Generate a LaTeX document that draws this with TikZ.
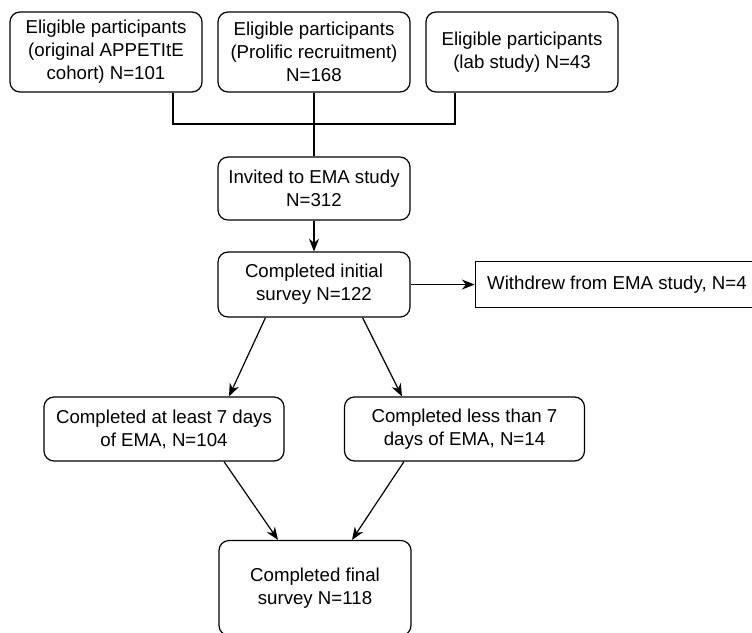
\documentclass[tikz,border=0pt]{standalone}
\usepackage{fontspec}
\setmainfont{Liberation Sans}
\usetikzlibrary{positioning,arrows.meta}

\tikzstyle{source} = [rectangle, rounded corners=7.5pt, minimum width=144pt, minimum height=60pt, text centered, align=center, draw=black, line width=0.9pt, font=\fontsize{14}{17.25}\selectfont]
\tikzstyle{process} = [source, minimum height=48pt]
\tikzstyle{excluded} = [rectangle, minimum height=35pt, inner xsep=9pt, draw=black, line width=0.9pt, font=\fontsize{14}{17.25}\selectfont]
\tikzstyle{arrow} = [line width=0.9pt, -{Stealth[length=9.5pt,width=7.5pt,inset=3pt]}]
\tikzstyle{merge} = [line width=2pt]
\tikzstyle{feed} = [line width=0.9pt]

\begin{document}
\begin{tikzpicture}[x=0.75pt, y=-0.75pt, node distance=156pt]
		\useasboundingbox (0,0) rectangle (752,632);

		\node (prolific) [source] at (314,52) {Eligible participants\\(Prolific recruitment)\\N=168};
		\node (appetite) [source, left of=prolific] {Eligible participants\\(original APPETItE\\cohort) N=101};
		\node (lab) [source, right of=prolific] {Eligible participants\\(lab study) N=43};
		\node (invited) [process, below of=prolific, node distance=102.4pt, minimum height=47.25pt] {Invited to EMA study\\N=312};
		\node (initial) [process, below of=invited, node distance=72pt, minimum height=48.75pt] {Completed initial\\survey N=122};
		\node (withdrew) [excluded, right=48pt of initial] {Withdrew from EMA study, N=4};
		\node (atleast) [process, minimum width=180pt] at (164,429) {Completed at least 7 days\\of EMA, N=104};
		\node (lessthan) [process, minimum width=180pt] at (464.5,429) {Completed less than 7\\days of EMA, N=14};
		\node (final) [process, minimum height=71.25pt] at (315,588) {Completed final\\survey N=118};

		% the three cohorts join here
		\coordinate (join) at (314,124);
		\draw [merge] ([xshift=50.25pt]appetite.south) |- (join) -| ([xshift=-50.25pt]lab.south);
		\draw [feed] (prolific.south) -- (join);
		\draw [merge] (join) -- (invited.north);

		\draw [arrow] (invited) -- (initial);
		\draw [arrow] (initial) -- (withdrew);
		\draw [arrow] ([xshift=-36.4pt]initial.south) -- ([xshift=48.75pt]atleast.north);
		\draw [arrow] ([xshift=36.4pt]initial.south) -- ([xshift=-46.9pt]lessthan.north);
		\draw [arrow] ([xshift=45pt]atleast.south) -- ([xshift=-27.75pt]final.north);
		\draw [arrow] ([xshift=-45.4pt]lessthan.south) -- ([xshift=27.75pt]final.north);
	\end{tikzpicture}
\end{document}
